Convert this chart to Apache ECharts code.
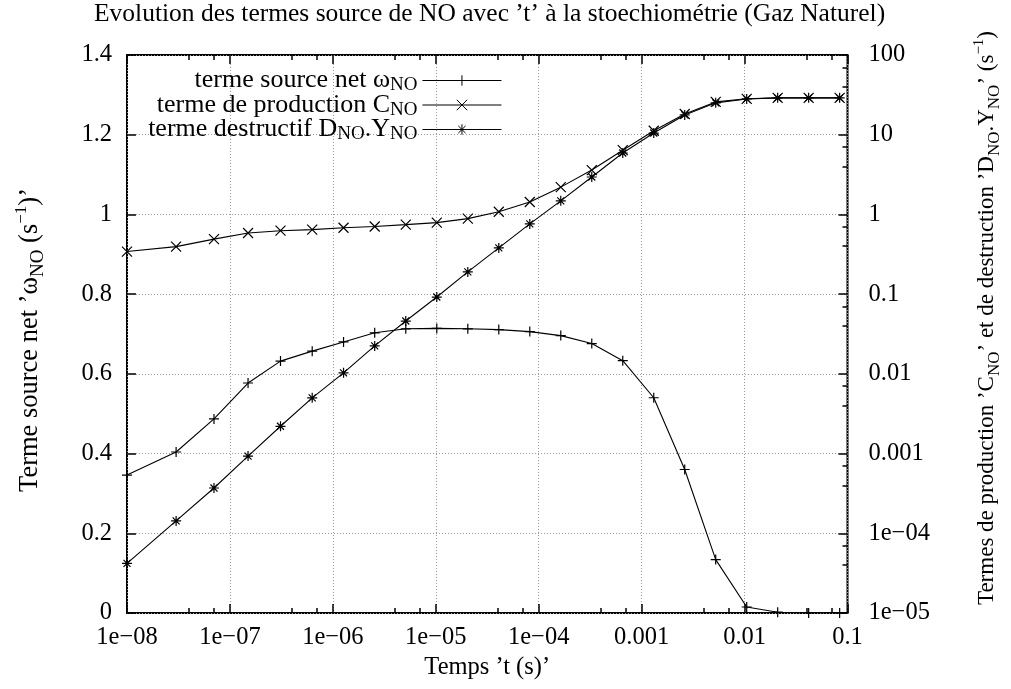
<!DOCTYPE html>
<html>
<head>
<meta charset="utf-8">
<script src="https://cdn.jsdelivr.net/npm/echarts@6/dist/echarts.min.js"></script>
<style>
html, body { margin: 0; padding: 0; background: #fff; }
#main { width: 1011px; height: 689px; }
</style>
</head>
<body>
<div id="main"></div>
<script>
// temps (s) des points calcules
var times = [1e-8, 3e-8, 7e-8, 1.5e-7, 3.1e-7, 6.3e-7, 1.27e-6, 2.55e-6, 5.11e-6, 1.023e-5,
  2.047e-5, 4.095e-5, 8.19e-5, 1.638e-4, 3.277e-4, 6.554e-4, 1.311e-3, 2.621e-3,
  5.243e-3, 1.049e-2, 2.097e-2, 4.194e-2, 8.389e-2];
// terme source net omega_NO (axe gauche)
var omegaNet = [0.346, 0.404, 0.487, 0.577, 0.632, 0.657, 0.680, 0.703, 0.713, 0.714,
  0.713, 0.711, 0.706, 0.696, 0.676, 0.633, 0.540, 0.360, 0.134, 0.015, 0.002, 0, 0];
// terme de production C_NO (axe droit, log)
var prodC = [0.342, 0.395, 0.49, 0.585, 0.625, 0.645, 0.68, 0.705, 0.745, 0.79,
  0.885, 1.08, 1.43, 2.2, 3.6, 6.4, 11.2, 18.2, 25.8, 28.2, 29, 29, 29];
// terme destructif D_NO.Y_NO (axe droit, log)
var destrDY = [4.2e-5, 1.43e-4, 3.7e-4, 9.3e-4, 2.2e-3, 5.0e-3, 1.03e-2, 2.24e-2, 4.6e-2, 9.2e-2,
  0.19, 0.38, 0.76, 1.48, 2.95, 5.9, 10.5, 17.7, 25.1, 28.1, 29, 29, 29];

var xTickLabels = ['1e\u221208', '1e\u221207', '1e\u221206', '1e\u221205', '1e\u221204', '0.001', '0.01', '0.1'];
var yTickLabels = ['0', '0.2', '0.4', '0.6', '0.8', '1', '1.2', '1.4'];
var y2TickLabels = ['1e\u221205', '1e\u221204', '0.001', '0.01', '0.1', '1', '10', '100'];

var FONT = 'Liberation Serif';
var FS = 24.5;

// texte riche : indices / exposants, f = taille du texte principal
function richFor(f, lh) {
  var s = Math.round(f * 0.72), e = Math.round(f * 0.66);
  return {
    n: { fontFamily: FONT, fontSize: f, lineHeight: lh || f, color: '#000' },
    sub: { fontFamily: FONT, fontSize: s, lineHeight: lh ? lh - 6 : s, padding: [lh ? 10 : Math.round(f * 0.66), 0, 0, 0], color: '#000' },
    sup: { fontFamily: FONT, fontSize: e, lineHeight: e, padding: [0, 0, Math.round(f * 0.66), 0], color: '#000' }
  };
}

var legendText = {
  net: '{n|terme source net \u03c9}{sub|NO}',
  prod: '{n|terme de production C}{sub|NO}',
  destr: '{n|terme destructif D}{sub|NO}{n|.Y}{sub|NO}'
};

var symPlus = 'path://M0,5L10,5M5,0L5,10';
var symCross = 'path://M0,0L10,10M10,0L0,10';
var symStar = 'path://M0,5L10,5M5,0L5,10M1.5,1.5L8.5,8.5M8.5,1.5L1.5,8.5';

function makeSeries(name, vals, yIdx, sym) {
  return {
    name: name,
    type: 'line',
    xAxisIndex: 0,
    yAxisIndex: yIdx,
    data: times.map(function (t, i) { return [t, vals[i]]; }),
    symbol: sym,
    symbolSize: 10,
    showAllSymbol: true,
    lineStyle: { color: '#000', width: 1.1 },
    itemStyle: { color: '#000', borderColor: '#000', borderWidth: 1.2 },
    emphasis: { disabled: true },
    z: 5
  };
}

var tickStyle = { inside: true, length: 9, lineStyle: { color: '#000', width: 1.5 } };
var minorStyle = { show: true, splitNumber: 3, length: 5, lineStyle: { color: '#000', width: 1.5 } };
var gridLine = { show: true, lineStyle: { color: '#999', width: 1, type: [1, 2] } };

var myChart = echarts.init(document.getElementById('main'));
myChart.setOption({
  animation: false,
  backgroundColor: '#fff',
  title: {
    text: 'Evolution des termes source de NO avec \u2019t\u2019 \u00e0 la stoechiom\u00e9trie (Gaz Naturel)',
    left: 94,
    top: 1,
    padding: 0,
    textStyle: { fontFamily: FONT, fontWeight: 'normal', fontSize: 25.5, color: '#000' }
  },
  legend: {
    orient: 'vertical',
    right: 509,
    top: 66,
    padding: 0,
    align: 'right',
    itemWidth: 79,
    itemHeight: 13,
    itemGap: -4.5,
    selectedMode: false,
    data: ['net', 'prod', 'destr'],
    lineStyle: { width: 1.1 },
    itemStyle: { borderWidth: 1 },
    formatter: function (name) { return legendText[name]; },
    textStyle: { rich: richFor(26, 20) }
  },
  grid: {
    left: 127, right: 159, top: 55, bottom: 76,
    show: true, borderColor: '#000', borderWidth: 2, backgroundColor: 'transparent'
  },
  xAxis: [{
    type: 'log',
    logBase: 10,
    min: 1e-8,
    max: 0.1,
    splitNumber: 7,
    position: 'bottom',
    axisLine: { show: false },
    axisTick: tickStyle,
    minorTick: minorStyle,
    splitLine: gridLine,
    axisLabel: {
      fontFamily: FONT, fontSize: FS, color: '#000', margin: 12,
      formatter: function (v) { return xTickLabels[Math.round(Math.log10(v)) + 8]; }
    },
    name: 'Temps \u2019t (s)\u2019',
    nameLocation: 'middle',
    nameGap: 26,
    nameTextStyle: { fontFamily: FONT, fontSize: 24.5, color: '#000', verticalAlign: 'top' }
  }, {
    type: 'log',
    logBase: 10,
    min: 1e-8,
    max: 0.1,
    splitNumber: 7,
    position: 'top',
    axisLine: { show: false },
    axisTick: tickStyle,
    minorTick: minorStyle,
    splitLine: { show: false },
    axisLabel: { show: false }
  }],
  yAxis: [{
    type: 'value',
    min: 0,
    max: 1.4,
    interval: 0.2,
    position: 'left',
    axisLine: { show: false },
    axisTick: tickStyle,
    splitLine: gridLine,
    axisLabel: {
      fontFamily: FONT, fontSize: FS, color: '#000', margin: 15,
      formatter: function (v) { return yTickLabels[Math.round(v / 0.2)]; }
    },
    name: '{n|Terme source net \u2019\u03c9}{sub|NO}{n| (s}{sup|\u22121}{n|)\u2019}',
    nameLocation: 'middle',
    nameRotate: 90,
    nameGap: 84,
    nameTextStyle: { rich: richFor(26.5), padding: [0, 12, 0, 0] }
  }, {
    type: 'log',
    logBase: 10,
    min: 1e-5,
    max: 100,
    splitNumber: 7,
    position: 'right',
    axisLine: { show: false },
    axisTick: tickStyle,
    minorTick: minorStyle,
    splitLine: { show: false },
    axisLabel: {
      fontFamily: FONT, fontSize: FS, color: '#000', margin: 21,
      formatter: function (v) { return y2TickLabels[Math.round(Math.log10(v)) + 5]; }
    },
    name: '{n|Termes de production \u2019C}{sub|NO}{n|\u2019 et de destruction \u2019D}{sub|NO}{n|.Y}{sub|NO}{n|\u2019 (s}{sup|\u22121}{n|)}',
    nameLocation: 'middle',
    nameRotate: 90,
    nameGap: 128,
    nameTextStyle: { rich: richFor(23), padding: [0, 0, 0, 32] }
  }],
  series: [
    makeSeries('net', omegaNet, 0, symPlus),
    makeSeries('prod', prodC, 1, symCross),
    makeSeries('destr', destrDY, 1, symStar)
  ]
});
</script>
</body>
</html>
